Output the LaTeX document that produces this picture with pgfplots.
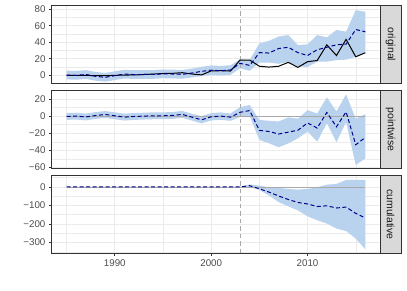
\documentclass[border=0pt]{standalone}
\usepackage{pgfplots}
\pgfplotsset{compat=1.18}
\usepackage{pgfplotstable}
\usepgfplotslibrary{fillbetween}
\usepackage{fontspec}
\setmainfont{Liberation Sans}

\definecolor{band}{HTML}{B9D3EE}
\definecolor{grid92}{HTML}{EBEBEB}
\definecolor{g20}{HTML}{333333}
\definecolor{g30}{HTML}{4D4D4D}
\definecolor{g85}{HTML}{D9D9D9}
\definecolor{g10}{HTML}{1A1A1A}
\definecolor{dkgrey}{HTML}{A9A9A9}
\definecolor{dkblue}{HTML}{00008B}

\pgfplotstableread{
year obs pred predlo predhi pw pwlo pwhi cum cumlo cumhi
1985 0 0.4 -4.9 5.7 -0.4 -4.4 3.6 0 0 0
1986 0 0 -5.3 5.3 0 -4 4 0 0 0
1987 0 1 -4.3 6.3 -1 -5 3 0 0 0
1988 -0.5 -1.2 -6.5 4.1 0.7 -3.3 4.7 0 0 0
1989 -0.5 -2.4 -7.7 2.9 1.9 -2.1 5.9 0 0 0
1990 0 -0.4 -5.7 4.9 0.4 -3.6 4.4 0 0 0
1991 0.3 1.5 -3.8 6.8 -1.2 -5.2 2.8 0 0 0
1992 0.5 0.9 -4.4 6.2 -0.4 -4.4 3.6 0 0 0
1993 1 1 -4.3 6.3 0 -4 4 0 0 0
1994 1.5 1.1 -4.2 6.4 0.4 -3.6 4.4 0 0 0
1995 2.2 1.8 -3.5 7.1 0.4 -3.6 4.4 0 0 0
1996 2.4 1.6 -3.7 6.9 0.8 -3.2 4.8 0 0 0
1997 3.2 1.2 -4.1 6.5 2 -2 6 0 0 0
1998 1.6 2.8 -2.5 8.1 -1.2 -5.2 2.8 0 0 0
1999 0.5 4.8 -0.8 10.4 -4.3 -8.5 -0.1 0 0 0
2000 5.4 6.2 0.4 12 -0.8 -5.1 3.5 0 0 0
2001 5.6 5.6 -0.2 11.4 0 -4.3 4.3 0 0 0
2002 5.2 6.4 0.6 12.2 -1.2 -5.5 3.1 0 0 0
2003 18.5 14.5 8.5 19.5 4.5 -1 10.5 0 0 0
2004 18.5 12 5.5 18.5 6.5 0 13 6.5 -1 13
2005 11 27.5 15.5 38.8 -16.7 -27.9 -4.4 -10.2 -16 7
2006 10 27 15.5 41.8 -18 -31.8 -5.5 -28 -46 -2
2007 11 32.5 14 47 -21 -36.5 -6.3 -49 -82 -5.5
2008 15.7 34 16 48.8 -18.8 -32 -1.5 -68 -105 -11
2009 9.7 27.5 11 36.7 -16.5 -26 -3 -84 -127 -14.5
2010 16.5 24 10 37.6 -8 -18 7 -92 -159 -11
2011 18 31 16.5 48.8 -14 -30 3 -106 -180 -2
2012 37 34 16.5 46 4.3 -8.2 22 -102 -198 12
2013 24 37 18.5 55 -12.5 -30.6 5.5 -114 -225 16
2014 43.6 37.8 19 53 5 -7 25.5 -109 -238 37.5
2015 22.5 55.5 22.5 79 -33.5 -57.3 -3 -143 -279 37.5
2016 27.4 52.8 27.9 77 -25 -49.5 2.4 -168 -337 37.5
}\data

\pgfplotsset{
  panel/.style={
    scale only axis, width=328.6bp, height=77.3bp,
    xmin=1983.45, xmax=2017.55,
    axis line style={g20, line width=0.9bp},
    grid=both,
    major grid style={grid92, line width=0.8bp},
    minor grid style={grid92, line width=0.4bp},
    xtick={1990,2000,2010}, minor xtick={1985,1995,2005,2015},
    tick pos=left, tick align=outside,
    major tick length=2.75bp, minor tick length=0bp,
    tick style={g20, line width=0.7bp},
    ticklabel style={font=\fontsize{9.8}{11}\selectfont, text=g30},
    clip=false,
  },
  noxticks/.style={xticklabels={}, xmajorticks=false},
  bandstyle/.style={fill=band, draw=none},
  obsline/.style={black, line width=1bp},
  predline/.style={dkblue, line width=1bp, dash pattern=on 4bp off 2.5bp},
  zeroline/.style={dkgrey, line width=0.8bp},
  vline/.style={dkgrey, line width=0.8bp, dash pattern=on 4.5bp off 3bp},
}

\newcommand{\strip}[1]{%
  \draw[g20, line width=0.9bp, fill=g85] (rel axis cs:1,0) rectangle ([xshift=20.7bp]rel axis cs:1,1);
  \node[rotate=-90, font=\fontsize{10.5}{12}\selectfont, text=g10, inner sep=0pt] at ([xshift=10.35bp]rel axis cs:1,0.5) {#1};
}

\begin{document}
\begin{tikzpicture}
\path (0,0) rectangle (407bp,-291bp);

% original
\begin{axis}[panel, noxticks, at={(51.7bp,-83bp)},
  ymin=-9.3, ymax=84.4,
  ytick={0,20,40,60,80}, yticklabels={0,20,40,60,80},
  minor ytick={10,30,50,70}]
\addplot[name path=hi1, draw=none] table[x=year, y=predhi]{\data};
\addplot[name path=lo1, draw=none] table[x=year, y=predlo]{\data};
\addplot[bandstyle] fill between[of=hi1 and lo1];
\addplot[vline] coordinates {(2003,-9.3) (2003,84.4)};
\addplot[obsline] table[x=year, y=obs]{\data};
\addplot[predline] table[x=year, y=pred]{\data};
\strip{original}
\end{axis}

% pointwise
\begin{axis}[panel, noxticks, at={(51.7bp,-168bp)},
  ymin=-60.8, ymax=29.8,
  ytick={-60,-40,-20,0,20}, yticklabels={−60,−40,−20,0,20},
  minor ytick={-50,-30,-10,10}]
\addplot[name path=hi2, draw=none] table[x=year, y=pwhi]{\data};
\addplot[name path=lo2, draw=none] table[x=year, y=pwlo]{\data};
\addplot[bandstyle] fill between[of=hi2 and lo2];
\addplot[zeroline] coordinates {(1985,0) (2016,0)};
\addplot[vline] coordinates {(2003,-60.8) (2003,29.8)};
\addplot[predline] table[x=year, y=pw]{\data};
\strip{pointwise}
\end{axis}

% cumulative
\begin{axis}[panel, at={(51.7bp,-253bp)},
  ymin=-357, ymax=60.5,
  xticklabels={1990,2000,2010},
  ytick={-300,-200,-100,0}, yticklabels={−300,−200,−100,0},
  minor ytick={-350,-250,-150,-50,50}]
\addplot[name path=hi3, draw=none] table[x=year, y=cumhi]{\data};
\addplot[name path=lo3, draw=none] table[x=year, y=cumlo]{\data};
\addplot[bandstyle] fill between[of=hi3 and lo3];
\addplot[zeroline] coordinates {(1985,0) (2016,0)};
\addplot[vline] coordinates {(2003,-357) (2003,60.5)};
\addplot[predline] table[x=year, y=cum]{\data};
\strip{cumulative}
\end{axis}
\end{tikzpicture}
\end{document}
